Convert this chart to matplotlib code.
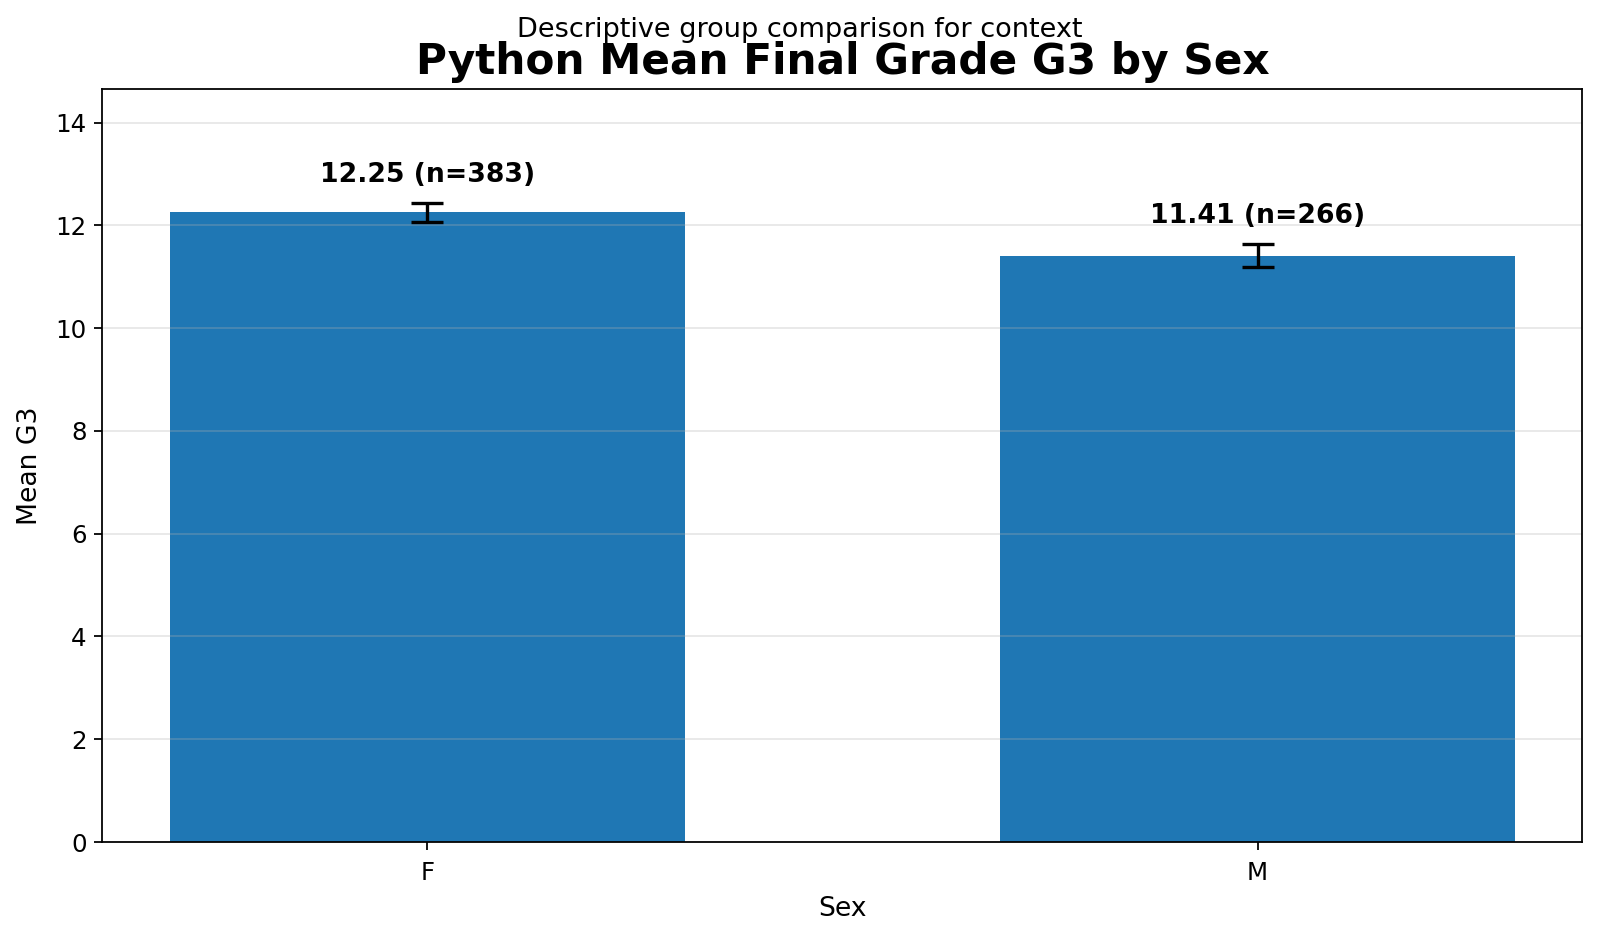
import numpy as np
import matplotlib
matplotlib.use("Agg")
import matplotlib.pyplot as plt

# ------------------------------- datos -------------------------------
sexes = ["F", "M"]
mean_g3 = [12.25, 11.41]
err_g3 = [0.18, 0.22]
counts = [383, 266]

# ------------------------------- grafico -------------------------------
fig, ax = plt.subplots(figsize=(10, 5.8625), dpi=160)
fig.subplots_adjust(left=0.064, right=0.989, bottom=0.1023, top=0.905)

x = np.arange(len(sexes))
ax.bar(x, mean_g3, width=0.62, color="#1f77b4")
ax.errorbar(x, mean_g3, yerr=err_g3, fmt="none", ecolor="black",
            capsize=7, elinewidth=1.5, capthick=1.5)

for xi, m, e, n in zip(x, mean_g3, err_g3, counts):
    ax.text(xi, m + e + 0.3, f"{m:.2f} (n={n})", ha="center", va="bottom",
            fontsize=12, fontweight="bold")

ax.set_xticks(x)
ax.set_xticklabels(sexes)
ax.set_ylim(0, 14.65)
ax.set_xlabel("Sex", fontsize=12, labelpad=5)
ax.set_ylabel("Mean G3", fontsize=12, labelpad=5.5)
ax.tick_params(labelsize=11)
ax.tick_params(axis="x", pad=5)
ax.grid(axis="y", alpha=0.3)
ax.set_title("Python Mean Final Grade G3 by Sex", fontsize=19, fontweight="bold", pad=7)
fig.suptitle("Descriptive group comparison for context", fontsize=12.2, y=0.982)

fig.savefig("out.png", dpi=160)
